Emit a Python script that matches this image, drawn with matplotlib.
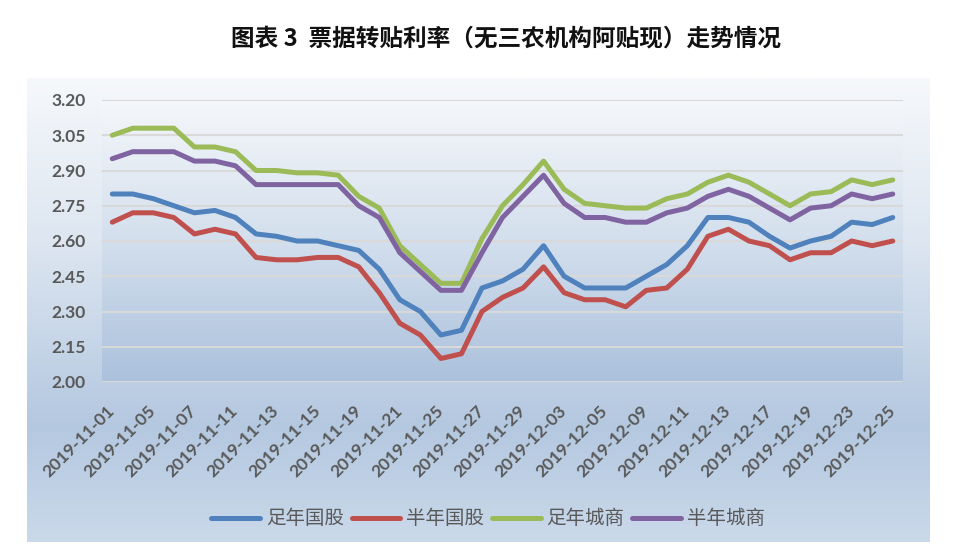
import numpy as np
import matplotlib
matplotlib.use("Agg")
import matplotlib.pyplot as plt
from matplotlib.colors import LinearSegmentedColormap

plt.rcParams['font.family'] = ['Lato', 'Noto Sans CJK SC', 'DejaVu Sans']

# 交易日 (2019-11-01 ~ 2019-12-25)
dates = [
    "2019-11-01", "2019-11-04", "2019-11-05", "2019-11-06", "2019-11-07",
    "2019-11-08", "2019-11-11", "2019-11-12", "2019-11-13", "2019-11-14",
    "2019-11-15", "2019-11-18", "2019-11-19", "2019-11-20", "2019-11-21",
    "2019-11-22", "2019-11-25", "2019-11-26", "2019-11-27", "2019-11-28",
    "2019-11-29", "2019-12-02", "2019-12-03", "2019-12-04", "2019-12-05",
    "2019-12-06", "2019-12-09", "2019-12-10", "2019-12-11", "2019-12-12",
    "2019-12-13", "2019-12-16", "2019-12-17", "2019-12-18", "2019-12-19",
    "2019-12-20", "2019-12-23", "2019-12-24", "2019-12-25",
]

guogu_1y = [2.80, 2.80, 2.78, 2.75, 2.72, 2.73, 2.70, 2.63, 2.62, 2.60, 2.60, 2.58, 2.56,
            2.48, 2.35, 2.30, 2.20, 2.22, 2.40, 2.43, 2.48, 2.58, 2.45, 2.40, 2.40, 2.40,
            2.45, 2.50, 2.58, 2.70, 2.70, 2.68, 2.62, 2.57, 2.60, 2.62, 2.68, 2.67, 2.70]
guogu_6m = [2.68, 2.72, 2.72, 2.70, 2.63, 2.65, 2.63, 2.53, 2.52, 2.52, 2.53, 2.53, 2.49,
            2.38, 2.25, 2.20, 2.10, 2.12, 2.30, 2.36, 2.40, 2.49, 2.38, 2.35, 2.35, 2.32,
            2.39, 2.40, 2.48, 2.62, 2.65, 2.60, 2.58, 2.52, 2.55, 2.55, 2.60, 2.58, 2.60]
chengshang_1y = [3.05, 3.08, 3.08, 3.08, 3.00, 3.00, 2.98, 2.90, 2.90, 2.89, 2.89, 2.88, 2.79,
                 2.74, 2.58, 2.50, 2.42, 2.42, 2.61, 2.75, 2.84, 2.94, 2.82, 2.76, 2.75, 2.74,
                 2.74, 2.78, 2.80, 2.85, 2.88, 2.85, 2.80, 2.75, 2.80, 2.81, 2.86, 2.84, 2.86]
chengshang_6m = [2.95, 2.98, 2.98, 2.98, 2.94, 2.94, 2.92, 2.84, 2.84, 2.84, 2.84, 2.84, 2.75,
                 2.70, 2.55, 2.47, 2.39, 2.39, 2.55, 2.70, 2.79, 2.88, 2.76, 2.70, 2.70, 2.68,
                 2.68, 2.72, 2.74, 2.79, 2.82, 2.79, 2.74, 2.69, 2.74, 2.75, 2.80, 2.78, 2.80]

series = [
    ("足年国股", guogu_1y, "#4F81BD"),
    ("半年国股", guogu_6m, "#C0504D"),
    ("足年城商", chengshang_1y, "#9BBB59"),
    ("半年城商", chengshang_6m, "#8064A2"),
]

W, H = 956, 560
fig = plt.figure(figsize=(W / 100, H / 100), dpi=100)
fig.patch.set_facecolor("white")

# 图表区渐变背景
bg = fig.add_axes([27 / W, 1 - 542 / H, (929 - 27) / W, (542 - 78) / H], zorder=-2)
outer_cmap = LinearSegmentedColormap.from_list(
    "outer", [(0, "#f6f8fb"), (0.35, "#dde6f1"), (0.75, "#b4c8e0"), (1, "#cad9ea")])
bg.imshow(np.linspace(0, 1, 256).reshape(-1, 1), cmap=outer_cmap, aspect="auto",
          extent=(0, 1, 0, 1), origin="upper")
bg.axis("off")

ax = fig.add_axes([102 / W, 1 - 382 / H, 801 / W, 282 / H])
ax.set_facecolor("none")
x = np.arange(len(dates))

# 绘图区渐变
inner_cmap = LinearSegmentedColormap.from_list(
    "inner", [(0, "#f5f7fa"), (0.5, "#d3dfed"), (1, "#abc1dc")])
ax.imshow(np.linspace(0, 1, 256).reshape(-1, 1), cmap=inner_cmap, aspect="auto",
          extent=(-0.5, len(dates) - 0.5, 2.0, 3.2), origin="upper", zorder=0)

for name, vals, c in series:
    ax.plot(x, vals, color=c, lw=3.6, label=name, solid_capstyle="round", zorder=3)

ax.set_xlim(-0.5, len(dates) - 0.5)
ax.set_ylim(2.0, 3.2)
yt = np.round(np.arange(2.0, 3.21, 0.15), 2)
ax.set_yticks(yt)
ax.set_yticklabels([f"{v:.2f}" for v in yt], fontsize=12.5, fontweight="bold", color="#595959")
ax.grid(axis="y", color="#d9d9d9", lw=1.5, zorder=1)
ax.set_axisbelow(True)
ax.set_xticks(x[::2])
ax.set_xticklabels(dates[::2], rotation=45, ha="right", va="center", rotation_mode="anchor",
                   fontsize=12.5, fontweight="bold", color="#595959")
ax.tick_params(axis="both", length=0)
ax.tick_params(axis="y", pad=12)
ax.tick_params(axis="x", pad=19)
for s in ax.spines.values():
    s.set_visible(False)

leg = fig.legend(loc="center", bbox_to_anchor=(488 / W, 1 - 519 / H), ncol=4, frameon=False,
                 prop={"family": ["Noto Sans CJK SC"], "size": 14},
                 handlelength=2.5, handletextpad=0.3, columnspacing=0.4)
for t in leg.get_texts():
    t.set_color("#595959")

fig.text(506 / W, 1 - 38 / H, "图表 3  票据转贴利率（无三农机构阿贴现）走势情况",
         ha="center", va="center", fontsize=17, fontweight="bold",
         family=["Noto Sans CJK SC", "DejaVu Sans"], color="#111111")

fig.savefig("out.png", dpi=100)
